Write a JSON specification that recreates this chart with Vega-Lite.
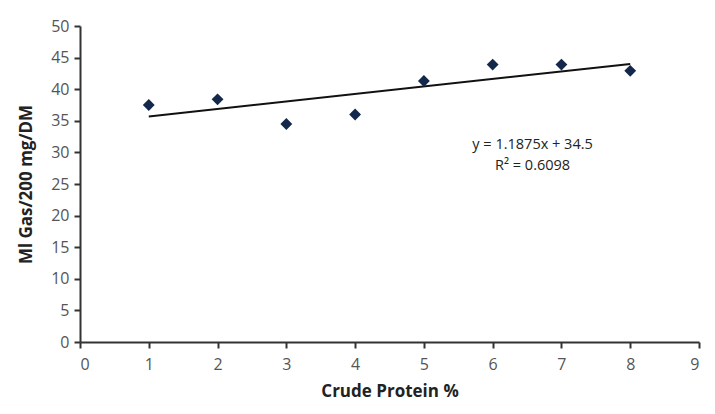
{
  "$schema": "https://vega.github.io/schema/vega-lite/v6.json",
  "width": 619,
  "height": 316,
  "autosize": {"type": "none"},
  "padding": {"left": 80, "top": 26, "right": 16, "bottom": 72},
  "background": "white",
  "config": {
    "view": {"stroke": null},
    "font": "Open Sans"
  },
  "datasets": {
    "pts": [
      {"cp": 1, "gas": 37.5},
      {"cp": 2, "gas": 38.4},
      {"cp": 3, "gas": 34.5},
      {"cp": 4, "gas": 36.0},
      {"cp": 5, "gas": 41.3},
      {"cp": 6, "gas": 43.9},
      {"cp": 7, "gas": 43.9},
      {"cp": 8, "gas": 42.9}
    ],
    "trend": [
      {"cp": 1, "gas": 35.6875},
      {"cp": 8, "gas": 44.0}
    ],
    "eq": [
      {"cp": 6.58, "gas": 31.1, "t": "y = 1.1875x + 34.5"},
      {"cp": 6.58, "gas": 27.8, "t": "R² = 0.6098"}
    ]
  },
  "encoding": {
    "x": {
      "field": "cp", "type": "quantitative",
      "scale": {"domain": [0, 9], "nice": false},
      "axis": {
        "title": "Crude Protein %",
        "values": [0,1,2,3,4,5,6,7,8,9],
        "format": "d",
        "labelOverlap": false,
        "grid": false,
        "domainColor": "#333333", "domainWidth": 2,
        "tickColor": "#333333", "tickWidth": 2, "tickSize": 6,
        "labelFont": "Open Sans", "labelFontSize": 16, "labelColor": "#555555",
        "labelPadding": 8,
        "titleFont": "Open Sans", "titleFontSize": 17, "titleFontWeight": "bold", "titleColor": "#222222",
        "titlePadding": 11
      }
    },
    "y": {
      "field": "gas", "type": "quantitative",
      "scale": {"domain": [0, 50], "nice": false},
      "axis": {
        "title": "Ml Gas/200 mg/DM",
        "values": [0,5,10,15,20,25,30,35,40,45,50],
        "format": "d",
        "labelOverlap": false,
        "grid": false,
        "domainColor": "#333333", "domainWidth": 2,
        "tickColor": "#333333", "tickWidth": 2, "tickSize": 6,
        "labelFont": "Open Sans", "labelFontSize": 16, "labelColor": "#555555",
        "labelPadding": 5,
        "titleFont": "Open Sans", "titleFontSize": 17, "titleFontWeight": "bold", "titleColor": "#222222",
        "titlePadding": 15
      }
    }
  },
  "layer": [
    {
      "data": {"name": "trend"},
      "mark": {"type": "line", "color": "#111111", "strokeWidth": 2}
    },
    {
      "data": {"name": "pts"},
      "mark": {"type": "point", "shape": "diamond", "filled": true, "size": 140, "color": "#13284a", "opacity": 1}
    },
    {
      "data": {"name": "eq"},
      "mark": {"type": "text", "font": "Open Sans", "fontSize": 14.5, "color": "#222222", "align": "center", "baseline": "middle"},
      "encoding": {
        "text": {"field": "t"}
      }
    }
  ]
}
